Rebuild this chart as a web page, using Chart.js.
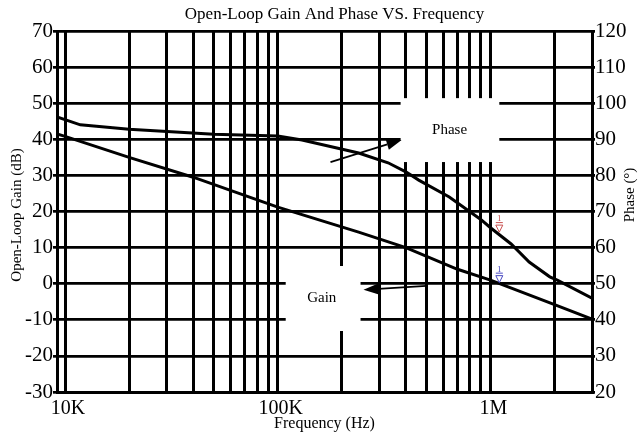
<!DOCTYPE html>
<html>
<head>
<meta charset="utf-8">
<script src="https://cdn.jsdelivr.net/npm/chart.js@4.4.1/dist/chart.umd.min.js"></script>
<style>
  html, body { margin: 0; padding: 0; background: #fff; }
</style>
</head>
<body>
<canvas id="chart" width="638" height="436"></canvas>
<script>
const FREQ_GRID = [
  10000, 20000, 30000, 40000, 50000, 60000, 70000, 80000, 90000,
  100000, 200000, 300000, 400000, 500000, 600000, 700000, 800000, 900000,
  1000000, 2000000, 3000000,
];
const FREQ_LABELS = { 10000: '10K', 100000: '100K', 1000000: '1M' };

const GAIN_FREQ = [9170, 10000, 20000, 40000, 100000, 240000, 400000, 700000, 1000000, 2000000, 3000000];
const GAIN_DB = [41.5, 40.8, 35.0, 29.5, 21.2, 14.3, 10.0, 4.0, 1.0, -5.8, -9.8];

const PHASE_FREQ = [9170, 11800, 20000, 50000, 100000, 130000, 240000, 330000, 400000, 460000,
  640000, 900000, 1000000, 1250000, 1520000, 1900000, 2060000, 3000000];
const PHASE_DEG = [96.2, 94.0, 92.8, 91.4, 90.9, 89.8, 86.2, 83.5, 81.0, 78.7,
  74.0, 67.8, 65.5, 61.0, 56.0, 51.9, 51.0, 46.0];

const SERIF = '"Liberation Serif", "DejaVu Serif", serif';

const toPoints = (xs, ys) => xs.map((x, i) => ({ x, y: ys[i] }));

function arrow(ctx, x0, y0, x1, y1) {
  const ang = Math.atan2(y1 - y0, x1 - x0);
  const len = 15, half = 5.5;
  const bx = x1 - len * Math.cos(ang), by = y1 - len * Math.sin(ang);
  ctx.beginPath();
  ctx.moveTo(x0, y0);
  ctx.lineTo(bx, by);
  ctx.stroke();
  ctx.beginPath();
  ctx.moveTo(x1, y1);
  ctx.lineTo(bx + half * Math.sin(ang), by - half * Math.cos(ang));
  ctx.lineTo(bx - half * Math.sin(ang), by + half * Math.cos(ang));
  ctx.closePath();
  ctx.fill();
}

function marker(ctx, x, y, color) {
  ctx.strokeStyle = color;
  ctx.fillStyle = color;
  ctx.lineWidth = 1;
  ctx.beginPath();
  ctx.moveTo(x - 3.5, y - 3);
  ctx.lineTo(x + 3.5, y - 3);
  ctx.lineTo(x, y + 4);
  ctx.closePath();
  ctx.stroke();
  ctx.beginPath();
  ctx.moveTo(x - 3.5, y - 5.5);
  ctx.lineTo(x + 3.5, y - 5.5);
  ctx.stroke();
  ctx.font = '9px ' + SERIF;
  ctx.textAlign = 'center';
  ctx.textBaseline = 'bottom';
  ctx.fillText('1', x, y - 5);
}

const annotations = {
  id: 'annotations',
  afterDraw(chart) {
    const { ctx, chartArea, scales } = chart;
    const px = f => scales.x.getPixelForValue(f);
    const pg = v => scales.yGain.getPixelForValue(v);
    const pp = v => scales.yPhase.getPixelForValue(v);
    ctx.save();

    // label boxes cut the grid
    ctx.fillStyle = '#fff';
    ctx.fillRect(px(378000), pp(101.4), px(1100000) - px(378000), pp(83.7) - pp(101.4));
    ctx.fillRect(px(109000), pg(4.9), px(245000) - px(109000), pg(-13.1) - pg(4.9));

    ctx.fillStyle = '#000';
    ctx.font = '15px ' + SERIF;
    ctx.textAlign = 'center';
    ctx.textBaseline = 'middle';
    ctx.fillText('Phase', px(642000), pp(92.6));
    ctx.fillText('Gain', px(161000), pg(-4.0));

    ctx.strokeStyle = '#000';
    ctx.lineWidth = 1.8;
    arrow(ctx, px(177000), pp(83.7), px(382000), pp(89.8));
    arrow(ctx, px(500000), pg(-0.6), px(253000), pg(-1.7));

    marker(ctx, px(1100000), pp(65.4), '#c85050');
    marker(ctx, px(1100000), pg(1.4), '#4646c0');

    // titles
    ctx.fillStyle = '#000';
    ctx.textAlign = 'center';
    ctx.textBaseline = 'middle';
    ctx.font = '17px ' + SERIF;
    ctx.fillText('Open-Loop Gain And Phase VS. Frequency', (chartArea.left + chartArea.right) / 2 + 10, 15);
    ctx.font = '16px ' + SERIF;
    ctx.fillText('Frequency (Hz)', (chartArea.left + chartArea.right) / 2, 424);

    ctx.font = '15px ' + SERIF;
    ctx.translate(17, 215);
    ctx.rotate(-Math.PI / 2);
    ctx.fillText('Open-Loop Gain (dB)', 0, 0);
    ctx.setTransform(1, 0, 0, 1, 0, 0);
    ctx.translate(630, 195);
    ctx.rotate(-Math.PI / 2);
    ctx.fillText('Phase (\u00b0)', 0, 0);
    ctx.restore();
  },
};

const tickFont = { family: SERIF, size: 21 };

new Chart(document.getElementById('chart'), {
  type: 'line',
  data: {
    datasets: [
      {
        label: 'Gain',
        data: toPoints(GAIN_FREQ, GAIN_DB),
        yAxisID: 'yGain',
        borderColor: '#000',
        borderWidth: 3,
        pointRadius: 0,
        tension: 0,
      },
      {
        label: 'Phase',
        data: toPoints(PHASE_FREQ, PHASE_DEG),
        yAxisID: 'yPhase',
        borderColor: '#000',
        borderWidth: 3,
        pointRadius: 0,
        tension: 0,
      },
    ],
  },
  options: {
    responsive: false,
    animation: false,
    layout: { padding: { top: 31, left: 0, right: 0, bottom: 0 } },
    plugins: {
      legend: { display: false },
      tooltip: { enabled: false },
      title: { display: false },
    },
    scales: {
      x: {
        type: 'logarithmic',
        min: 9170,
        max: 3000000,
        afterBuildTicks: scale => { scale.ticks = FREQ_GRID.map(value => ({ value })); },
        afterFit: scale => { scale.height = 44; },
        ticks: {
          autoSkip: false,
          maxRotation: 0,
          color: '#000',
          font: { family: SERIF, size: 20 },
          padding: 5,
          labelOffset: 3,
          callback: value => FREQ_LABELS[value] || '',
        },
        grid: { color: '#000', lineWidth: 3, drawTicks: false },
        border: { display: true, color: '#000', width: 3 },
      },
      yGain: {
        position: 'left',
        min: -30,
        max: 70,
        afterFit: scale => { scale.width = 57; },
        ticks: { stepSize: 10, color: '#000', font: tickFont, padding: 0 },
        grid: { color: '#000', lineWidth: 2.7, tickLength: 4 },
        border: { display: true, color: '#000', width: 3 },
      },
      yPhase: {
        position: 'right',
        min: 20,
        max: 120,
        afterFit: scale => { scale.width = 46; },
        ticks: { stepSize: 10, color: '#000', font: tickFont, padding: 0 },
        grid: { drawOnChartArea: false, color: '#000', lineWidth: 2.7, tickLength: 3 },
        border: { display: true, color: '#000', width: 3 },
      },
    },
  },
  plugins: [annotations],
});
</script>
</body>
</html>
